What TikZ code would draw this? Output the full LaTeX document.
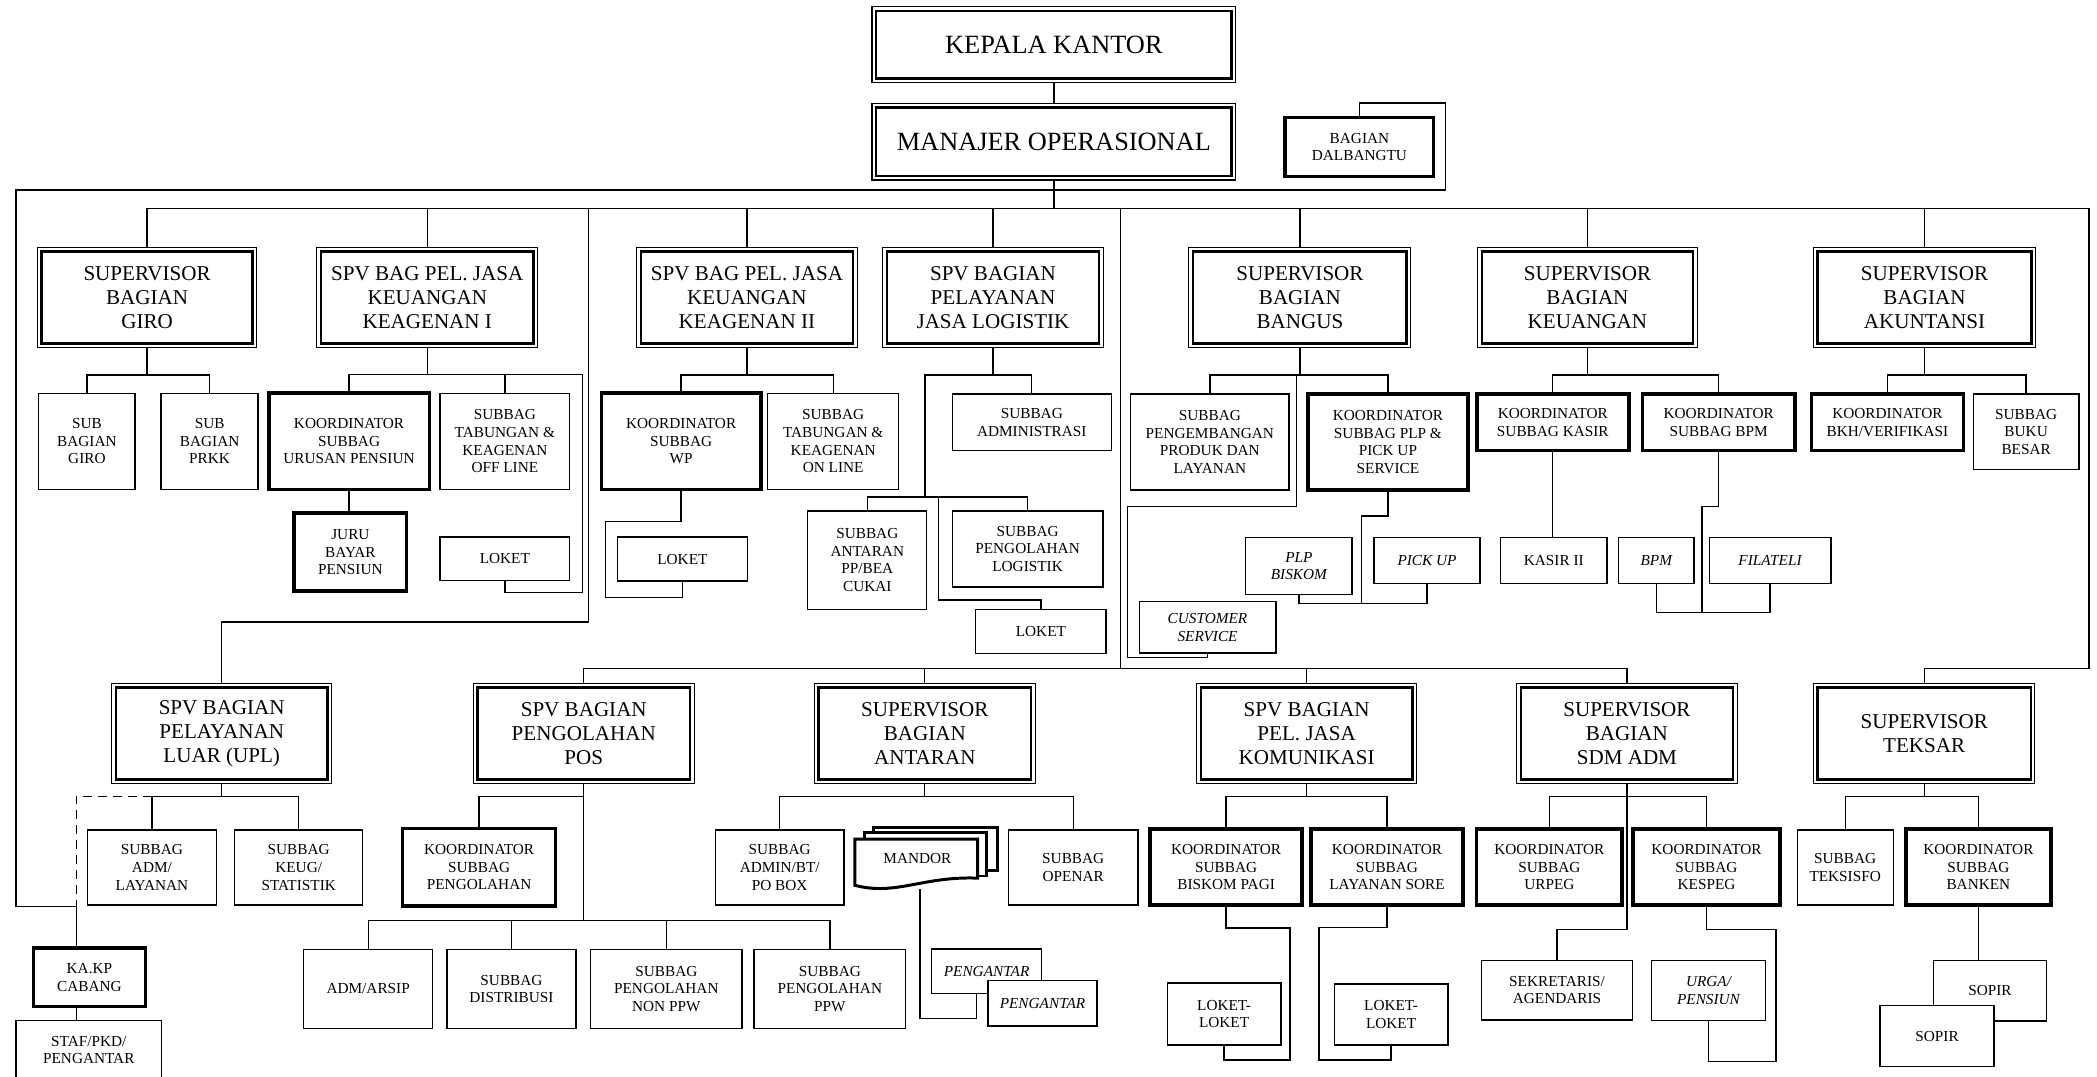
\documentclass[tikz,border=0pt]{standalone}
\usepackage{fontspec}
\setmainfont{Liberation Serif}
\usepackage{tikz}

\begin{document}
\begin{tikzpicture}[x=0.026748cm, y=-0.026748cm]
\tikzset{span/.style n args={4}{at={({(#1+#3)/2},{(#2+#4)/2})}, minimum width={(#3-#1)*0.026748cm}, minimum height={(#4-#2)*0.026748cm}}}
\tikzstyle{supbox} = [draw, fill=white, line width=0.6pt, inner sep=0pt, align=center, font=\fontsize{12}{13.7}\selectfont,
  path picture={\draw[line width=1.4pt] ([shift={(2.4pt,2.4pt)}]path picture bounding box.south west) rectangle ([shift={(-2.4pt,-2.4pt)}]path picture bounding box.north east);}]
\tikzstyle{headbox} = [supbox, font=\fontsize{15}{17}\selectfont]
\tikzstyle{thinbox} = [draw, fill=white, line width=0.75pt, inner sep=0pt, align=center, font=\fontsize{8.7}{10}\selectfont]
\tikzstyle{thickbox} = [thinbox, line width=2pt]
\tikzstyle{itbox} = [thinbox, font=\fontsize{8.7}{10}\selectfont\itshape]
\tikzstyle{line} = [draw, line width=0.75pt]
\tikzstyle{docline} = [draw, fill=white, line width=1.7pt, line join=miter]

\useasboundingbox (0,0) rectangle (1568,805);

% top
\node [headbox, span={652}{5}{924}{62}] (kk) {KEPALA KANTOR};
\node [headbox, span={652}{77.3}{924}{134.6}] (mo) {MANAJER OPERASIONAL};
\node [thickbox, span={961}{87.7}{1072}{132}] (dalb) {BAGIAN\\DALBANGTU};

% upper supervisors
\node [supbox, span={28}{185}{192}{260}] (giro) {SUPERVISOR\\BAGIAN\\GIRO};
\node [supbox, span={237}{185}{402}{260}] (keag1) {SPV BAG PEL. JASA\\KEUANGAN\\KEAGENAN I};
\node [supbox, span={476}{185}{641}{260}] (keag2) {SPV BAG PEL. JASA\\KEUANGAN\\KEAGENAN II};
\node [supbox, span={660}{185}{825}{260}] (logis) {SPV BAGIAN\\PELAYANAN\\JASA LOGISTIK};
\node [supbox, span={889}{185}{1055}{260}] (bangus) {SUPERVISOR\\BAGIAN\\BANGUS};
\node [supbox, span={1105}{185}{1269}{260}] (keu) {SUPERVISOR\\BAGIAN\\KEUANGAN};
\node [supbox, span={1356}{185}{1522}{260}] (akun) {SUPERVISOR\\BAGIAN\\AKUNTANSI};

% upper units
\node [thinbox, span={29}{294}{101}{366}] (subgiro) {SUB\\BAGIAN\\GIRO};
\node [thinbox, span={120.5}{294}{193}{366}] (prkk) {SUB\\BAGIAN\\PRKK};
\node [thickbox, span={201}{294}{321}{366}] (pensiun) {KOORDINATOR\\SUBBAG\\URUSAN PENSIUN};
\node [thinbox, span={329}{294}{426}{366}] (offline) {SUBBAG\\TABUNGAN \&\\KEAGENAN\\OFF LINE};
\node [thickbox, span={220}{383.6}{304}{442}] (juru) {JURU\\BAYAR\\PENSIUN};
\node [thinbox, span={329}{401.5}{426}{434}] (loket1) {LOKET};
\node [thickbox, span={449.6}{294}{569}{366}] (wp) {KOORDINATOR\\SUBBAG\\WP};
\node [thinbox, span={574}{294}{672}{366}] (online) {SUBBAG\\TABUNGAN \&\\KEAGENAN\\ON LINE};
\node [thinbox, span={461.5}{401.6}{559}{434.5}] (loket2) {LOKET};
\node [thinbox, span={712}{294.6}{831}{337}] (admin) {SUBBAG\\ADMINISTRASI};
\node [thinbox, span={604}{382}{693}{455.6}] (antarpp) {SUBBAG\\ANTARAN\\PP/BEA\\CUKAI};
\node [thinbox, span={712}{382}{824.7}{439}] (olahlog) {SUBBAG\\PENGOLAHAN\\LOGISTIK};
\node [thinbox, span={729.6}{455.6}{827}{488.5}] (loket3) {LOKET};
\node [thinbox, span={845.5}{294.6}{963.8}{366.4}] (kembang) {SUBBAG\\PENGEMBANGAN\\PRODUK DAN\\LAYANAN};
\node [thickbox, span={978}{294.6}{1097.6}{366.4}] (plp) {KOORDINATOR\\SUBBAG PLP \&\\PICK UP\\SERVICE};
\node [itbox, span={851.8}{449.9}{954}{488.3}] (cs) {CUSTOMER\\SERVICE};
\node [itbox, span={931.4}{402}{1011}{444.4}] (biskom) {PLP\\BISKOM};
\node [itbox, span={1027.4}{402}{1106.7}{436.2}] (pickup) {PICK UP};
\node [thickbox, span={1104.2}{294.6}{1218}{337}] (kasir) {KOORDINATOR\\SUBBAG KASIR};
\node [thickbox, span={1228.2}{294.6}{1342}{337}] (bpmk) {KOORDINATOR\\SUBBAG BPM};
\node [thinbox, span={1122}{402}{1201.7}{436.2}] (kasir2) {KASIR II};
\node [itbox, span={1210.2}{402}{1266.7}{436.2}] (bpm) {BPM};
\node [itbox, span={1278}{402}{1369}{436.2}] (filat) {FILATELI};
\node [thickbox, span={1354.6}{294.6}{1468}{337}] (bkh) {KOORDINATOR\\BKH/VERIFIKASI};
\node [thinbox, span={1475.5}{294.6}{1554.5}{351}] (buku) {SUBBAG\\BUKU\\BESAR};

% lower supervisors
\node [supbox, span={83.6}{511}{248}{586}] (upl) {SPV BAGIAN\\PELAYANAN\\LUAR (UPL)};
\node [supbox, span={354}{511}{519}{586}] (pos) {SPV BAGIAN\\PENGOLAHAN\\POS};
\node [supbox, span={609}{511}{774}{586}] (antar) {SUPERVISOR\\BAGIAN\\ANTARAN};
\node [supbox, span={894.8}{511}{1059.3}{586}] (komun) {SPV BAGIAN\\PEL. JASA\\KOMUNIKASI};
\node [supbox, span={1134}{511}{1299}{586}] (sdm) {SUPERVISOR\\BAGIAN\\SDM ADM};
\node [supbox, span={1356}{511}{1521.6}{586}] (teksar) {SUPERVISOR\\TEKSAR};

% lower units
\node [thinbox, span={65.5}{620.6}{161.7}{676.7}] (admlay) {SUBBAG\\ADM/\\LAYANAN};
\node [thinbox, span={175.4}{620.6}{271.3}{676.7}] (keug) {SUBBAG\\KEUG/\\STATISTIK};
\node [thickbox, span={25}{709}{108.7}{752.7}] (kakp) {KA.KP\\CABANG};
\node [thinbox, span={12}{763.2}{120.8}{807}] (staf) {STAF/PKD/\\PENGANTAR};
\node [thickbox, span={301}{619.4}{415.5}{677.5}] (koolah) {KOORDINATOR\\SUBBAG\\PENGOLAHAN};
\node [thinbox, span={227}{709.8}{323.6}{768.9}] (arsip) {ADM/ARSIP};
\node [thinbox, span={334.2}{709.8}{430.7}{768.9}] (distrib) {SUBBAG\\DISTRIBUSI};
\node [thinbox, span={441.7}{709.8}{554.8}{768.9}] (nonppw) {SUBBAG\\PENGOLAHAN\\NON PPW};
\node [thinbox, span={563.8}{709.8}{677.2}{768.9}] (ppw) {SUBBAG\\PENGOLAHAN\\PPW};
\node [thinbox, span={535}{620.6}{631}{676.7}] (adminbt) {SUBBAG\\ADMIN/BT/\\PO BOX};
\node [thinbox, span={754}{620.6}{851}{676.7}] (openar) {SUBBAG\\OPENAR};
\node [itbox, span={696.7}{709.7}{778.7}{743}] (antar1) {PENGANTAR};
\node [itbox, span={738.8}{733.3}{820.3}{767.2}] (antar2) {PENGANTAR};
\node [thickbox, span={860}{620}{973.6}{676.7}] (pagi) {KOORDINATOR\\SUBBAG\\BISKOM PAGI};
\node [thickbox, span={980.2}{620}{1094}{676.7}] (sore) {KOORDINATOR\\SUBBAG\\LAYANAN SORE};
\node [thinbox, span={872.8}{735}{957.8}{781.4}] (lok4) {LOKET-\\LOKET};
\node [thinbox, span={997.6}{735.8}{1082.7}{781.4}] (lok5) {LOKET-\\LOKET};
\node [thickbox, span={1104}{620}{1213}{676.7}] (urpeg) {KOORDINATOR\\SUBBAG\\URPEG};
\node [thickbox, span={1221}{620}{1331}{676.7}] (kespeg) {KOORDINATOR\\SUBBAG\\KESPEG};
\node [thinbox, span={1108}{718}{1220.5}{762.7}] (sekre) {SEKRETARIS/\\AGENDARIS};
\node [itbox, span={1235}{718}{1320}{763}] (urga) {URGA/\\PENSIUN};
\node [thinbox, span={1343.8}{620.6}{1415.6}{676.7}] (teksisfo) {SUBBAG\\TEKSISFO};
\node [thickbox, span={1425}{620}{1533.6}{676.7}] (banken) {KOORDINATOR\\SUBBAG\\BANKEN};
\node [thinbox, span={1445.5}{718.3}{1530.4}{763.4}] (sopir1) {SOPIR};
\node [thinbox, span={1405.8}{752}{1491}{797.6}] (sopir2) {SOPIR};

% mandor stack
\path [docline] (653,619) rectangle (745.6,651);
\path [docline] (646.5,622.6) rectangle (738,655);
\path [docline] (639.3,627.5) -- (731,627.5) -- (731,656.6) .. controls (690,655) and (670,670) .. (639.3,662) -- cycle;
\node [font=\fontsize{8.7}{10}\selectfont] (mandor) at (686,642) {MANDOR};
\coordinate (mandorfoot) at (688,665);

% coordinates of bends
\coordinate (topbusL) at (109,156);
\coordinate (topbusR) at (1562,156);
\coordinate (rightbend) at (1562,500);
\coordinate (midtop) at (838,156);
\coordinate (midbus) at (838,499.6);
\coordinate (leftdrop) at (440,156);
\coordinate (uplbend) at (440,465);
\coordinate (dalbtop) at (1081,77);
\coordinate (leftedge) at (12,142);
\coordinate (cabbend) at (57,678);

% top level
\path [line] (kk) -- (mo);
\path [line] (mo.south) -- (mo.south |- topbusL);
\path [line] (giro.north) |- (topbusR) -- (rightbend) -| (teksar.north);
\path [line] (keag1.north) -- (keag1.north |- topbusL);
\path [line] (keag2.north) -- (keag2.north |- topbusL);
\path [line] (logis.north) -- (logis.north |- topbusL);
\path [line] (bangus.north) -- (bangus.north |- topbusL);
\path [line] (keu.north) -- (keu.north |- topbusL);
\path [line] (akun.north) -- (akun.north |- topbusL);
\path [line] (midtop) -- (midbus);
\path [line] (pos.north) |- (midbus) -| (sdm.north);
\path [line] (antar.north) -- (antar.north |- midbus);
\path [line] (komun.north) -- (komun.north |- midbus);
\path [line] (leftdrop) -- (uplbend) -| (upl.north);
\path [line] (dalb.north) |- (dalbtop) |- (leftedge) |- (cabbend) -- (kakp.north -| cabbend);
\path [line] (kakp.south -| cabbend) -- (staf.north -| cabbend);

% giro
\path [line] (giro.south) -- ++(0,20) coordinate (girobus);
\path [line] (subgiro.north) |- (girobus) -| (prkk.north);

% keagenan I
\coordinate (k1edge) at (435.6,280);
\coordinate (k1low) at (435.6,443);
\path [line] (keag1.south) -- ++(0,20);
\path [line] (pensiun.north) |- (k1edge) -- (k1low) -| (loket1.south);
\path [line] (offline.north) -- (offline.north |- k1edge);
\path [line] (pensiun.south) -- (pensiun.south |- juru.north);

% keagenan II
\coordinate (wpbend) at (453,390);
\coordinate (wplow) at (453,447);
\path [line] (keag2.south) -- ++(0,20) coordinate (k2bus);
\path [line] (wp.north) |- (k2bus) -| (online.north);
\path [line] (wp.south) |- (wpbend) -- (wplow) -| (loket2.south);

% logistik
\coordinate (lgtrunk) at (691.6,371.6);
\coordinate (lgsplit) at (701.8,371.6);
\coordinate (lglow) at (701.8,448.6);
\path [line] (logis.south) -- ++(0,20) coordinate (lgbus);
\path [line] (admin.north) |- (lgbus) -| (lgtrunk);
\path [line] (antarpp.north) |- (lgtrunk) -| (olahlog.north);
\path [line] (lgsplit) -- (lglow) -| (loket3.north);

% bangus
\coordinate (bgsplit) at (969.3,280);
\coordinate (bgbend) at (843.3,378.8);
\coordinate (bglow) at (843.3,491.8);
\coordinate (plpbend) at (1018.2,385.8);
\coordinate (plpbus) at (1018.2,451);
\path [line] (bangus.south) -- ++(0,20) coordinate (bgbus);
\path [line] (kembang.north) |- (bgbus) -| (plp.north);
\path [line] (bgsplit) |- (bgbend) -- (bglow) -| (cs.south);
\path [line] (plp.south) |- (plpbend) -- (plpbus);
\path [line] (biskom.south) |- (plpbus) -| (pickup.south);

% keuangan
\coordinate (bpmbend) at (1272.6,378.8);
\coordinate (bpmbus) at (1272.6,458);
\path [line] (keu.south) -- ++(0,20) coordinate (kubus);
\path [line] (kasir.north) |- (kubus) -| (bpmk.north);
\path [line] (kasir.south) -- (kasir.south |- kasir2.north);
\path [line] (bpmk.south) |- (bpmbend) -- (bpmbus);
\path [line] (bpm.south) |- (bpmbus) -| (filat.south);

% akuntansi
\path [line] (akun.south) -- ++(0,20) coordinate (akbus);
\path [line] (bkh.north) |- (akbus) -| (buku.north);

% upl
\path [line] (upl.south) -- ++(0,9) coordinate (uplbus);
\path [line] (admlay.north) |- (uplbus) -| (keug.north);
\path [line, dash pattern=on 5pt off 3.5pt] (admlay.north |- uplbus) -| (cabbend);

% pengolahan pos
\path [line] (pos.south) -- ++(0,9) coordinate (posbus) -- ++(0,93) coordinate (poslow);
\path [line] (koolah.north) |- (posbus);
\path [line] (arsip.north) |- (poslow) -| (ppw.north);
\path [line] (distrib.north) -- (distrib.north |- poslow);
\path [line] (nonppw.north) -- (nonppw.north |- poslow);

% antaran
\coordinate (mdlow) at (688,761.4);
\coordinate (mdend) at (730,761.4);
\path [line] (antar.south) -- ++(0,9) coordinate (anbus);
\path [line] (adminbt.north) |- (anbus) -| (openar.north);
\path [line] (mandorfoot) -- (mdlow) -- (mdend) -- (antar1.south -| mdend);

% komunikasi
\coordinate (pgbend) at (964.6,694);
\coordinate (pglow) at (964.6,792.6);
\coordinate (srbend) at (986.3,693.6);
\coordinate (srlow) at (986.3,792.6);
\path [line] (komun.south) -- ++(0,9) coordinate (kmbus);
\path [line] (pagi.north) |- (kmbus) -| (sore.north);
\path [line] (pagi.south) |- (pgbend) -- (pglow) -| (lok4.south);
\path [line] (sore.south) |- (srbend) -- (srlow) -| (lok5.south);

% sdm adm
\coordinate (kpbend) at (1328,694.8);
\coordinate (kplow) at (1328,793.8);
\path [line] (sdm.south) -- ++(0,9) coordinate (sdbus) -- ++(0,99.8) coordinate (sdlow);
\path [line] (urpeg.north) |- (sdbus) -| (kespeg.north);
\path [line] (sdlow) -| (sekre.north);
\path [line] (kespeg.south) |- (kpbend) -- (kplow) -| (urga.south);

% teksar
\path [line] (teksar.south) -- ++(0,9) coordinate (tkbus);
\path [line] (teksisfo.north) |- (tkbus) -| (banken.north);
\path [line] (banken.south) -- (banken.south |- sopir1.north);
\end{tikzpicture}
\end{document}
